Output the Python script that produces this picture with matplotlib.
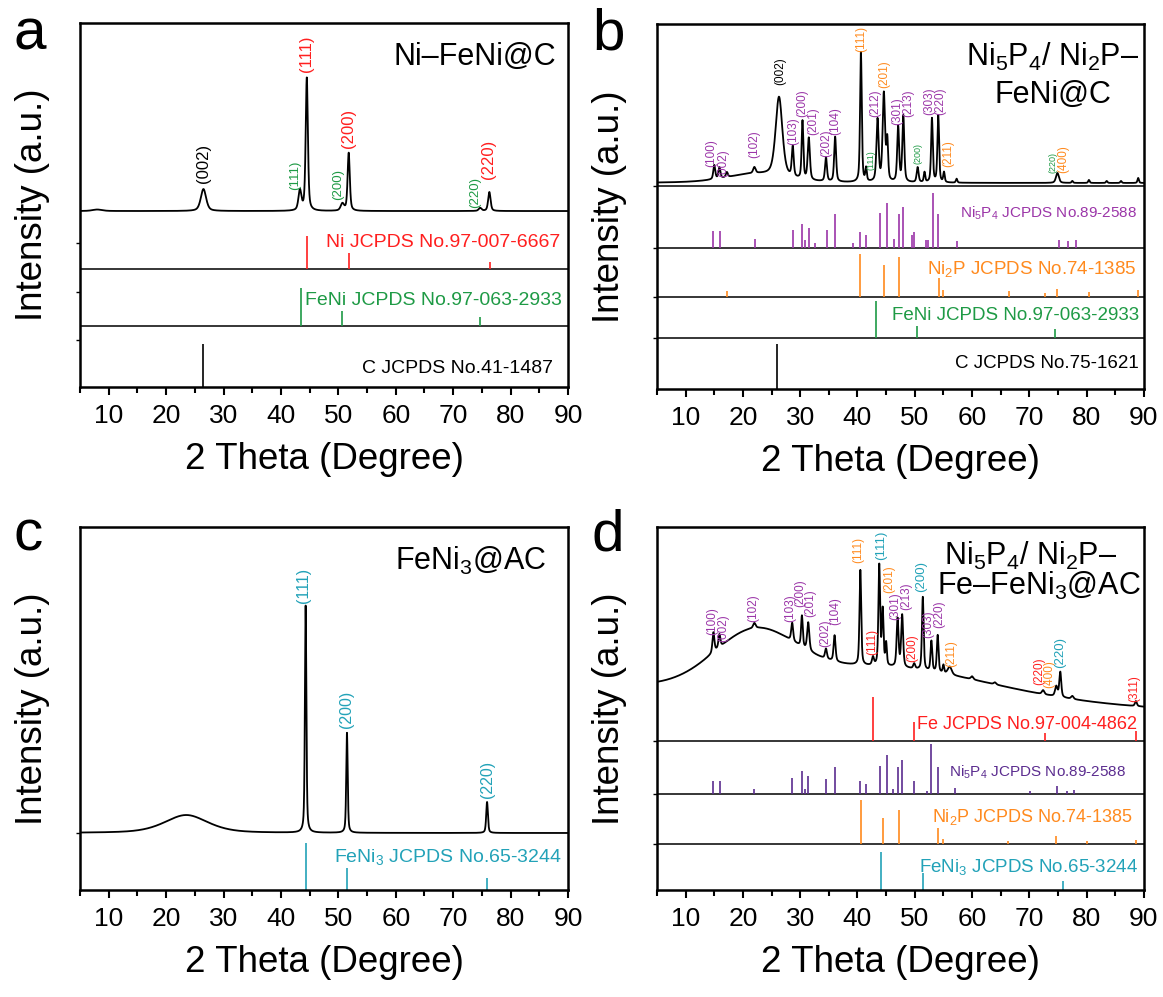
import numpy as np
import matplotlib
matplotlib.use("Agg")
import matplotlib.pyplot as plt

plt.rcParams["font.family"] = ["Liberation Sans", "DejaVu Sans"]
plt.rcParams["mathtext.fontset"] = "custom"
plt.rcParams["mathtext.rm"] = "Liberation Sans"
plt.rcParams["mathtext.it"] = "Liberation Sans:italic"
plt.rcParams["mathtext.bf"] = "Liberation Sans:bold"

RED = "#FF1F1F"
GREEN = "#1E9A45"
CYAN = "#22A2B8"
ORANGE = "#FF8A1E"
PURPLE = "#9B35A8"
DPURPLE = "#5B2C8F"

# ── panel a : Ni-FeNi@C ──────────────────────────────────────────
a_top = 364
a_base = 176
a_peaks = [(8.0, 1.5, 2.0), (26.5, 22, 1.1), (43.3, 20, 0.6), (44.5, 133, 0.45),
           (50.7, 7, 0.7), (51.8, 58, 0.45), (74.7, 3, 0.6), (76.3, 19, 0.5)]
a_c_sticks = [(26.5, 43)]
a_feni_sticks = [(43.5, 38), (50.7, 15), (74.7, 9)]
a_ni_sticks = [(44.5, 33), (51.8, 16), (76.4, 7)]
a_dividers = [61, 118]
a_hkl = [("(002)", 26.5, 204, "k", 12), ("(111)", 44.5, 315, RED, 12),
         ("(200)", 51.7, 239, RED, 12), ("(220)", 76.1, 208, RED, 12),
         ("(111)", 42.4, 197, GREEN, 9.5), ("(200)", 49.9, 187, GREEN, 9.5),
         ("(220)", 73.9, 179, GREEN, 9.5)]

# ── panel b : Ni5P4/Ni2P-FeNi@C ──────────────────────────────────
b_top = 365
b_base = 206
b_peaks = [(22.0, 9, 12.0), (15.0, 14, 0.4), (15.9, 11, 0.4), (17.2, 5, 0.4),
           (22.0, 6, 0.5), (26.3, 80, 1.4), (28.7, 30, 0.4), (30.4, 58, 0.35),
           (31.5, 42, 0.45), (34.5, 24, 0.4), (36.1, 45, 0.4), (40.6, 130, 0.35),
           (41.5, 13, 0.3), (43.5, 62, 0.45), (44.6, 88, 0.5), (45.2, 40, 0.35),
           (47.1, 55, 0.4), (48.0, 66, 0.4), (50.5, 15, 0.4), (51.7, 10, 0.3),
           (53.0, 64, 0.35), (54.1, 67, 0.35), (55.1, 10, 0.3), (57.3, 4, 0.3),
           (74.9, 10, 0.6), (77.5, 2, 0.3), (80.4, 3, 0.3), (83.5, 2, 0.3),
           (86.0, 2, 0.3), (89.0, 5, 0.3)]
b_c_sticks = [(26.0, 45)]
b_feni_sticks = [(43.2, 37), (50.4, 12), (74.4, 9)]
b_ni2p_sticks = [(17.3, 6), (40.5, 43), (44.6, 32), (47.3, 40), (54.2, 19),
                 (54.9, 7), (66.4, 6), (72.8, 4), (74.9, 8), (80.4, 5), (89.0, 7)]
b_ni5p4_sticks = [(14.8, 17), (16.05, 17), (22.1, 9), (28.7, 18), (30.4, 24),
                  (30.9, 8), (31.5, 20), (32.6, 5), (34.6, 18), (36.1, 34),
                  (39.3, 5), (40.5, 16), (41.5, 13), (43.9, 35), (45.2, 45),
                  (46.4, 9), (47.2, 34), (48.0, 41), (49.5, 13), (49.9, 16),
                  (52.0, 8), (52.3, 8), (53.1, 55), (54.1, 34), (57.3, 7),
                  (75.2, 8), (76.7, 7), (78.2, 8)]
b_dividers = [51, 92, 141, 203]
b_hkl = [("(100)", 14.5, 222, PURPLE, 8.5), ("(002)", 16.6, 212, PURPLE, 8.5),
         ("(102)", 22.0, 231, PURPLE, 8.5), ("(002)", 26.5, 304, "k", 8.5),
         ("(103)", 28.7, 244, PURPLE, 8.5), ("(200)", 30.3, 272, PURPLE, 8.5),
         ("(201)", 32.3, 254, PURPLE, 8.5), ("(202)", 34.5, 232, PURPLE, 8.5),
         ("(104)", 36.2, 254, PURPLE, 8.5), ("(111)", 40.6, 337, ORANGE, 8.5),
         ("(111)", 42.3, 219, GREEN, 6.5), ("(212)", 43.1, 272, PURPLE, 8.5),
         ("(201)", 44.6, 301, ORANGE, 8.5), ("(301)", 47.0, 264, PURPLE, 8.5),
         ("(213)", 48.9, 272, PURPLE, 8.5), ("(200)", 50.5, 225, GREEN, 6.5),
         ("(303)", 52.5, 274, PURPLE, 8.5), ("(220)", 54.4, 274, PURPLE, 8.5),
         ("(211)", 55.9, 222, ORANGE, 8.5), ("(220)", 74.2, 216, GREEN, 6.5),
         ("(400)", 76.0, 216, ORANGE, 8.5)]

# ── panel c : FeNi3@AC ───────────────────────────────────────────
c_top = 363
c_base = 57
c_peaks = [(23.5, 18, 9.0), (44.3, 227, 0.3), (51.5, 100, 0.3), (75.9, 31, 0.35)]
c_feni3_sticks = [(44.3, 47), (51.5, 22), (75.9, 12)]
c_hkl = [("(111)", 43.9, 287, CYAN, 11.5), ("(200)", 51.4, 162, CYAN, 11.5),
         ("(220)", 76.0, 92, CYAN, 11.5)]

# ── panel d : Ni5P4/Ni2P-Fe-FeNi3@AC ─────────────────────────────
d_top = 363
d_line_ends = [(5, 203), (90, 182)]
d_humps = [(22.0, 50, 7.0), (45.0, 30, 18.0)]
d_peaks = [(14.85, 20, 0.4), (15.9, 13, 0.4), (22.0, 5, 0.5), (28.6, 18, 0.4),
           (30.3, 31, 0.35), (31.4, 28, 0.45), (34.5, 10, 0.4), (36.0, 26, 0.4),
           (40.5, 95, 0.35), (42.7, 8, 0.4), (43.8, 100, 0.35), (44.4, 55, 0.35),
           (45.0, 22, 0.3), (47.0, 48, 0.4), (47.8, 52, 0.4), (49.9, 5, 0.4),
           (51.4, 73, 0.35), (52.9, 30, 0.35), (54.0, 37, 0.35), (55.0, 8, 0.3),
           (56.1, 8, 0.8), (60.0, 3, 0.5), (64.0, 2, 0.5), (72.4, 4, 0.5),
           (74.7, 10, 0.5), (75.4, 25, 0.4), (77.5, 3, 0.5), (88.6, 5, 0.4)]
d_feni3_sticks = [(44.1, 38), (51.5, 17), (75.8, 9)]
d_ni2p_sticks = [(40.6, 44), (44.5, 26), (47.3, 34), (54.1, 16), (54.9, 5),
                 (66.3, 3), (74.6, 8), (80.1, 3), (88.7, 4)]
d_ni5p4_sticks = [(14.86, 13), (16.0, 13), (22.0, 5), (28.6, 16), (30.3, 23),
                  (30.8, 5), (31.4, 18), (34.5, 15), (36.1, 27), (40.5, 13),
                  (41.4, 10), (43.9, 28), (45.2, 39), (46.2, 5), (47.0, 27),
                  (47.8, 34), (49.8, 13), (52.2, 3), (52.9, 50), (54.0, 27),
                  (57.0, 6), (70.2, 3), (74.9, 8), (76.5, 3), (77.8, 4)]
d_fe_sticks = [(42.7, 44), (49.8, 19), (72.8, 8), (88.6, 10)]
d_dividers = [46, 96, 149]
d_hkl = [("(100)", 14.7, 255, PURPLE, 8.5), ("(002)", 16.5, 248, PURPLE, 8.5),
         ("(102)", 21.8, 268, PURPLE, 8.5), ("(103)", 28.3, 268, PURPLE, 8.5),
         ("(200)", 30.0, 283, PURPLE, 8.5), ("(201)", 31.8, 273, PURPLE, 8.5),
         ("(202)", 34.4, 243, PURPLE, 8.5), ("(104)", 36.1, 265, PURPLE, 8.5),
         ("(111)", 40.2, 327, ORANGE, 8.5), ("(111)", 42.5, 235, RED, 8.5),
         ("(111)", 44.2, 330, CYAN, 9.5), ("(201)", 45.5, 297, ORANGE, 8.5),
         ("(301)", 46.6, 270, PURPLE, 8.5), ("(213)", 48.5, 280, PURPLE, 8.5),
         ("(200)", 49.5, 228, RED, 8.5), ("(200)", 51.1, 298, CYAN, 9.5),
         ("(303)", 52.4, 252, PURPLE, 8.5), ("(220)", 54.3, 262, PURPLE, 8.5),
         ("(211)", 56.4, 223, ORANGE, 8.5), ("(220)", 71.8, 205, RED, 8.5),
         ("(400)", 73.5, 202, ORANGE, 8.5), ("(220)", 75.4, 222, CYAN, 9.5),
         ("(311)", 88.3, 188, RED, 8.5)]

two_theta = np.arange(5, 90.001, 0.02)


def pseudo_voigt(x, center, height, fwhm, eta=0.5):
    u = (x - center) / fwhm
    gauss = np.exp(-4 * np.log(2) * u ** 2)
    lorentz = 1 / (1 + 4 * u ** 2)
    return height * (eta * lorentz + (1 - eta) * gauss)


def pattern(x, peaks, base):
    y = np.full_like(x, float(base))
    for c, h, w in peaks:
        y += pseudo_voigt(x, c, h, w)
    return y


def draw_sticks(ax, sticks, base, color):
    pos = [p for p, h in sticks]
    hts = [h for p, h in sticks]
    ax.vlines(pos, base, base + np.array(hts), colors=color, lw=1.2)


def draw_hkl(ax, labels):
    for s, x, y, col, fs in labels:
        ax.text(x, y, s, rotation=90, ha="center", va="bottom", color=col, fontsize=fs)


def style_axes(ax, top, yticks):
    ax.set_xlim(5, 90)
    ax.set_ylim(0, top)
    ax.set_xticks(range(10, 91, 10))
    ax.set_xticks(range(5, 90, 10), minor=True)
    ax.tick_params(axis="x", which="major", direction="out", length=6, width=1.5,
                   labelsize=19, pad=6)
    ax.tick_params(axis="x", which="minor", direction="out", length=4, width=1.5)
    ax.set_yticks(yticks)
    ax.set_yticklabels([])
    ax.tick_params(axis="y", direction="out", length=3, width=1)
    for sp in ax.spines.values():
        sp.set_linewidth(1.8)
    ax.set_xlabel("2 Theta (Degree)", fontsize=26.5, labelpad=10)
    ax.set_ylabel("Intensity (a.u.)", fontsize=26.5)
    ax.yaxis.set_label_coords(-0.062, 0.5)


fig = plt.figure(figsize=(11.63, 9.97), dpi=100)

# ── a ──
ax = fig.add_axes([0.0688, 0.6118, 0.4196, 0.3651])
ax.plot(two_theta, pattern(two_theta, a_peaks, a_base), color="k", lw=1.3)
for y in a_dividers:
    ax.axhline(y, color="k", lw=1.1)
draw_sticks(ax, a_c_sticks, 0, "k")
draw_sticks(ax, a_feni_sticks, a_dividers[0], GREEN)
draw_sticks(ax, a_ni_sticks, a_dividers[1], RED)
ax.text(88.7, 140, "Ni JCPDS No.97-007-6667", color=RED, fontsize=14, ha="right", va="baseline")
ax.text(89.0, 82, "FeNi JCPDS No.97-063-2933", color=GREEN, fontsize=14, ha="right", va="baseline")
ax.text(87.3, 14, "C JCPDS No.41-1487", color="k", fontsize=14, ha="right", va="baseline")
ax.text(88.0, 322, "Ni–FeNi@C", fontsize=22, ha="right", va="baseline")
draw_hkl(ax, a_hkl)
style_axes(ax, a_top, [47, 95, 144])

# ── b ──
ax = fig.add_axes([0.5649, 0.6098, 0.4187, 0.3661])
ax.plot(two_theta, pattern(two_theta, b_peaks, b_base), color="k", lw=1.3)
for y in b_dividers:
    ax.axhline(y, color="k", lw=1.1)
draw_sticks(ax, b_c_sticks, 0, "k")
draw_sticks(ax, b_feni_sticks, b_dividers[0], GREEN)
draw_sticks(ax, b_ni2p_sticks, b_dividers[1], ORANGE)
draw_sticks(ax, b_ni5p4_sticks, b_dividers[2], PURPLE)
ax.text(88.8, 171, r"Ni$_5$P$_4$ JCPDS No.89-2588", color=PURPLE, fontsize=11, ha="right", va="baseline")
ax.text(88.6, 115, r"Ni$_2$P JCPDS No.74-1385", color=ORANGE, fontsize=13.5, ha="right", va="baseline")
ax.text(89.1, 69, "FeNi JCPDS No.97-063-2933", color=GREEN, fontsize=13.5, ha="right", va="baseline")
ax.text(89.1, 21, "C JCPDS No.75-1621", color="k", fontsize=13.5, ha="right", va="baseline")
ax.text(74.1, 323, r"Ni$_5$P$_4$/ Ni$_2$P–", fontsize=22, ha="center", va="baseline")
ax.text(74.1, 286, "FeNi@C", fontsize=22, ha="center", va="baseline")
draw_hkl(ax, b_hkl)
style_axes(ax, b_top, b_dividers)

# ── c ──
ax = fig.add_axes([0.0688, 0.1073, 0.4196, 0.3641])
ax.plot(two_theta, pattern(two_theta, c_peaks, c_base), color="k", lw=1.3)
draw_sticks(ax, c_feni3_sticks, 0, CYAN)
ax.text(88.9, 28, r"FeNi$_3$ JCPDS No.65-3244", color=CYAN, fontsize=14, ha="right", va="baseline")
ax.text(86.3, 320, r"FeNi$_3$@AC", fontsize=22, ha="right", va="baseline")
draw_hkl(ax, c_hkl)
style_axes(ax, c_top, [c_base])

# ── d ──
ax = fig.add_axes([0.5649, 0.1073, 0.4187, 0.3641])
(x0, y0), (x1, y1) = d_line_ends
d_curve = y0 + (y1 - y0) * (two_theta - x0) / (x1 - x0)
for c, h, s in d_humps:
    d_curve = d_curve + h * np.exp(-((two_theta - c) ** 2) / (2 * s ** 2))
d_curve = d_curve + pattern(two_theta, d_peaks, 0)
ax.plot(two_theta, d_curve, color="k", lw=1.3)
for y in d_dividers:
    ax.axhline(y, color="k", lw=1.1)
draw_sticks(ax, d_feni3_sticks, 0, CYAN)
draw_sticks(ax, d_ni2p_sticks, d_dividers[0], ORANGE)
draw_sticks(ax, d_ni5p4_sticks, d_dividers[1], DPURPLE)
draw_sticks(ax, d_fe_sticks, d_dividers[2], RED)
ax.text(88.8, 161, "Fe JCPDS No.97-004-4862", color=RED, fontsize=13, ha="right", va="baseline")
ax.text(86.9, 113, r"Ni$_5$P$_4$ JCPDS No.89-2588", color=DPURPLE, fontsize=11, ha="right", va="baseline")
ax.text(88.1, 68, r"Ni$_2$P JCPDS No.74-1385", color=ORANGE, fontsize=13, ha="right", va="baseline")
ax.text(89.0, 18, r"FeNi$_3$ JCPDS No.65-3244", color=CYAN, fontsize=13.5, ha="right", va="baseline")
ax.text(70.3, 325, r"Ni$_5$P$_4$/ Ni$_2$P–", fontsize=22, ha="center", va="baseline")
ax.text(71.7, 295, r"Fe–FeNi$_3$@AC", fontsize=22, ha="center", va="baseline")
draw_hkl(ax, d_hkl)
style_axes(ax, d_top, d_dividers)

# panel letters
for letter, x, y in [("a", 0.012, 0.950), ("b", 0.509, 0.950),
                     ("c", 0.012, 0.448), ("d", 0.509, 0.448)]:
    fig.text(x, y, letter, fontsize=42, va="baseline")

fig.savefig("out.png", dpi=100)
